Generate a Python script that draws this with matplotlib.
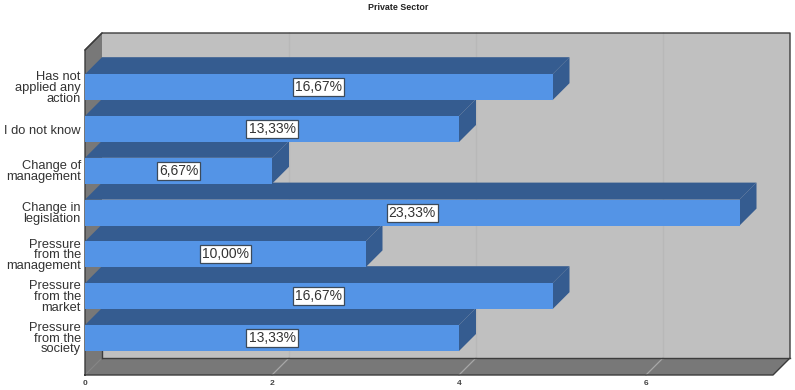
import numpy as np
import matplotlib
matplotlib.use("Agg")
import matplotlib.pyplot as plt
from matplotlib.patches import Polygon

plt.rcParams['font.family'] = ['Liberation Sans', 'DejaVu Sans']

# Data, top bar first
categories = ["Has not\napplied any\naction", "I do not know", "Change of\nmanagement",
              "Change in\nlegislation", "Pressure\nfrom the\nmanagement",
              "Pressure\nfrom the\nmarket", "Pressure\nfrom the\nsociety"]
counts = [5, 4, 2, 7, 3, 5, 4]
percent_labels = ["16,67%", "13,33%", "6,67%", "23,33%", "10,00%", "16,67%", "13,33%"]
x_ticks = [0, 2, 4, 6]

# Colours
wall_color = "#c0c0c0"
floor_color = "#787878"
grid_color = "#b8b8b8"
frame_color = "#3c3c3c"
bar_front = "#5494e6"
bar_dark = "#355c90"

fig = plt.figure(figsize=(7.95, 3.9), dpi=100)
ax = fig.add_axes([85 / 795, 15 / 390, 688 / 795, 325 / 390])

# Scales: 93.5 px per unit on x, 41.8 px per category on y
xmax = 688 / 93.5
ymin, ymax = -37 / 41.8, 288 / 41.8
ax.set_xlim(0, xmax)
ax.set_ylim(ymin, ymax)

# 3D depth, in data units
dx = 17 / 93.5
dy = 17 / 41.8
half = 13 / 41.8

# Back wall, left wall and floor
ax.add_patch(Polygon([(dx, ymin + dy), (xmax + dx, ymin + dy), (xmax + dx, ymax + dy), (dx, ymax + dy)],
                     fc=wall_color, ec="none", clip_on=False, zorder=1))
ax.add_patch(Polygon([(0, ymin), (dx, ymin + dy), (dx, ymax + dy), (0, ymax)],
                     fc=floor_color, ec="none", clip_on=False, zorder=1))
ax.add_patch(Polygon([(0, ymin), (xmax, ymin), (xmax + dx, ymin + dy), (dx, ymin + dy)],
                     fc=floor_color, ec="none", clip_on=False, zorder=1))

# Grid lines on wall and floor
for t in x_ticks[1:]:
    ax.plot([t + dx, t + dx], [ymin + dy, ymax + dy], color=grid_color, lw=1, clip_on=False, zorder=2)
    ax.plot([t, t + dx], [ymin, ymin + dy], color="#a8a8a8", lw=0.9, clip_on=False, zorder=2)
ax.plot([0, dx], [ymin, ymin + dy], color="#858585", lw=0.8, clip_on=False, zorder=2)

# Frame
ax.plot([0, 0, dx, xmax + dx, xmax + dx, xmax, 0], [ymin, ymax, ymax + dy, ymax + dy, ymin + dy, ymin, ymin],
        color=frame_color, lw=1, clip_on=False, zorder=3)
ax.plot([dx, xmax + dx], [ymin + dy, ymin + dy], color=frame_color, lw=1, clip_on=False, zorder=3)
ax.plot([dx, dx], [ymin + dy, ymin + 2 * dy], color=frame_color, lw=1, clip_on=False, zorder=3)
ax.plot([0, dx], [ymax, ymax + dy], color=frame_color, lw=1, clip_on=False, zorder=3)

# Bars: tops and ends first so the fronts stay whole
y_pos = np.arange(len(categories))[::-1]
for i in range(len(categories)):
    y = y_pos[i]
    v = counts[i]
    ax.add_patch(Polygon([(0, y + half), (v, y + half), (v + dx, y + half + dy), (dx, y + half + dy)],
                         fc=bar_dark, ec="none", clip_on=False, zorder=4))
    ax.add_patch(Polygon([(v, y - half), (v + dx, y - half + dy), (v + dx, y + half + dy), (v, y + half)],
                         fc=bar_dark, ec="none", clip_on=False, zorder=4))
    ax.barh(y, v, height=2 * half, color=bar_front, edgecolor="none", zorder=5)
    ax.text(v / 2, y, percent_labels[i], ha="center", va="center", fontsize=10, color="#333333", zorder=20,
            bbox=dict(boxstyle="square,pad=0.15", fc="white", ec="#3c4a5a", lw=0.9))

# Axis text
ax.set_yticks(y_pos)
ax.set_yticklabels(categories, fontsize=9.3, color="#333333", linespacing=0.85)
ax.set_xticks(x_ticks)
ax.set_xticklabels([str(t) for t in x_ticks], fontsize=6, fontweight="bold", color="#444444")
ax.tick_params(axis="both", length=0)
ax.tick_params(axis="x", pad=3.5)
ax.tick_params(axis="y", pad=3)
for s in ax.spines.values():
    s.set_visible(False)

fig.text(398 / 795, 1 - 7 / 390, "Private Sector", ha="center", va="center",
         fontsize=6.4, fontweight="bold", color="#222222")

fig.savefig("out.png", dpi=100)
